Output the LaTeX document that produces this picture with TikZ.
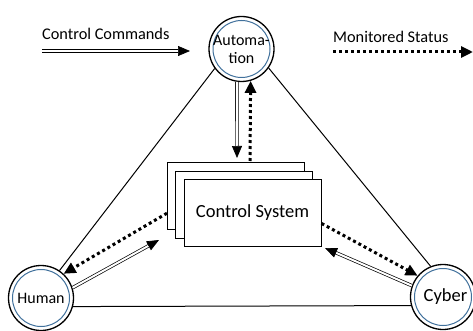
\documentclass[tikz,border=0pt]{standalone}
\usepackage{fontspec}
\setmainfont{Carlito}
\usetikzlibrary{arrows.meta,calc}

\definecolor{ringblue}{HTML}{41719C}

\tikzset{
	agent/.style={circle, draw, fill=white, line width=1.3pt, minimum size=65pt, inner sep=0pt,
		path picture={\draw[ringblue, line width=1pt] (path picture bounding box.center) circle (28.5pt);}},
	sysbox/.style={draw, fill=white, line width=1pt, minimum width=137pt, minimum height=67pt, inner sep=0pt},
	link/.style={line width=1pt},
	cmd/.style={double, double distance=2pt, line width=0.7pt, -{Triangle[length=12pt, width=10pt]}},
	status/.style={line width=3pt, dash pattern=on 3pt off 3pt, -{Triangle[length=12pt, width=11pt]}},
	legend/.style={inner sep=0pt, font=\fontsize{16.3}{18}\selectfont}
}

\begin{document}
\begin{tikzpicture}[x=1pt, y=-1pt]
	\useasboundingbox (0,0) rectangle (473,331);

	% the three agents
	\node[agent, font=\fontsize{16}{18}\selectfont, align=center] (auto) at (241.5,49) {Automa-\\tion};
	\node[agent, font=\fontsize{16}{18}\selectfont] (human) at (41,298) {Human};
	\node[agent, font=\fontsize{18.5}{20}\selectfont] (cyber) at (443,297) {\hspace{5pt}Cyber};

	% triangle between them
	\draw[link] (auto.216) -- (human.56);
	\draw[link] (auto.325) -- (cyber.112);
	\draw[link] (human.-15) -- (cyber.195);

	% stacked control system
	\node[sysbox] (back) at (236,196) {};
	\node[sysbox] (mid) at (244,204.5) {};
	\node[sysbox, font=\fontsize{18.5}{20}\selectfont] (front) at (252.5,212.5) {Control System};

	% free ends of the arrows
	\coordinate (autoin) at (237,158);
	\coordinate (autoout) at (250,161);
	\coordinate (humanin) at (159,240);
	\coordinate (cyberin) at (325,248);

	% commands and status flows
	\draw[cmd] (auto.262) -- (autoin);
	\draw[status] (autoout) -- (auto.-74);
	\draw[status] (back.194) -- (human.47);
	\draw[cmd] (human.18) -- (humanin);
	\draw[status] (front.-9) -- (cyber.140);
	\draw[cmd] (cyber.160) -- (cyberin);

	% legend
	\node[legend, anchor=west] (cmdtext) at (42,34) {Control Commands};
	\node[legend, anchor=west] (stattext) at (333,37) {Monitored Status};
	\coordinate (cmdstart) at (42,51);
	\coordinate (cmdend) at (190,51);
	\coordinate (statstart) at (333,52);
	\coordinate (statend) at (473,52);
	\draw[cmd] (cmdstart) -- (cmdend);
	\draw[status] (statstart) -- (statend);
\end{tikzpicture}
\end{document}
